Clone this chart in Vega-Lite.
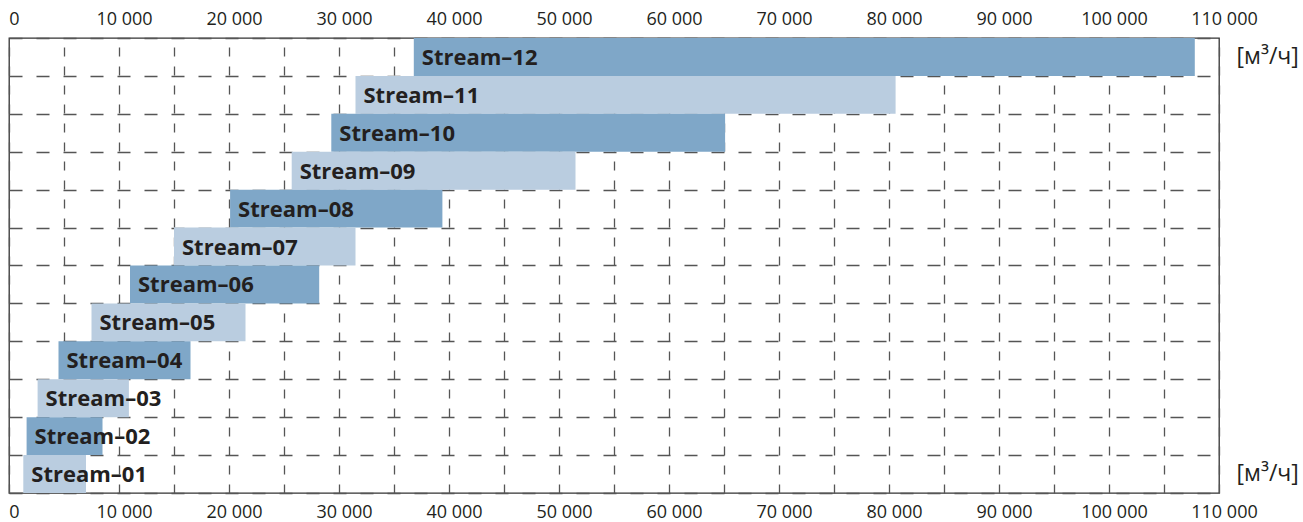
{
  "$schema": "https://vega.github.io/schema/vega-lite/v6.json",
  "width": 1210,
  "height": 455,
  "autosize": {"type": "none"},
  "padding": {"left": 9, "top": 38, "right": 84, "bottom": 29},
  "background": "white",
  "config": {
    "view": {"stroke": "#333333", "strokeWidth": 1.3},
    "font": "Open Sans"
  },
  "data": {
    "values": [
      {"name": "Stream–12", "parity": "even", "start": 36800, "end": 107800},
      {"name": "Stream–11", "parity": "odd", "start": 31500, "end": 80600},
      {"name": "Stream–10", "parity": "even", "start": 29300, "end": 65100},
      {"name": "Stream–09", "parity": "odd", "start": 25700, "end": 51500},
      {"name": "Stream–08", "parity": "even", "start": 20100, "end": 39400},
      {"name": "Stream–07", "parity": "odd", "start": 15000, "end": 31500},
      {"name": "Stream–06", "parity": "even", "start": 11000, "end": 28200},
      {"name": "Stream–05", "parity": "odd", "start": 7500, "end": 21500},
      {"name": "Stream–04", "parity": "even", "start": 4500, "end": 16500},
      {"name": "Stream–03", "parity": "odd", "start": 2600, "end": 10900},
      {"name": "Stream–02", "parity": "even", "start": 1600, "end": 8500},
      {"name": "Stream–01", "parity": "odd", "start": 1300, "end": 7000}
    ]
  },
  "resolve": {"axis": {"x": "independent", "y": "independent"}},
  "layer": [
    {
      "mark": {"type": "bar", "cornerRadius": 0},
      "encoding": {
        "x": {
          "field": "start",
          "type": "quantitative",
          "scale": {"domain": [0, 110000], "nice": false, "zero": true},
          "axis": {
            "orient": "bottom",
            "title": null,
            "values": [0, 5000, 10000, 15000, 20000, 25000, 30000, 35000, 40000, 45000, 50000, 55000, 60000, 65000, 70000, 75000, 80000, 85000, 90000, 95000, 100000, 105000, 110000],
            "labelExpr": "datum.value % 10000 == 0 ? replace(format(datum.value, ','), ',', ' ') : ''",
            "grid": true,
            "gridDash": [9, 10],
            "gridColor": "#555555",
            "gridWidth": 1.3,
            "ticks": false,
            "tickSize": 0,
            "domain": false,
            "labelFontSize": 18,
            "labelFont": "Open Sans",
            "labelColor": "#231f20",
            "labelPadding": 10,
            "labelOffset": 5,
            "labelFlush": false,
            "labelOverlap": false,
            "labelBound": false
          }
        },
        "x2": {"field": "end"},
        "y": {
          "field": "name",
          "type": "nominal",
          "sort": null,
          "scale": {"paddingInner": 0, "paddingOuter": 0},
          "axis": {
            "orient": "left",
            "title": null,
            "labels": false,
            "ticks": false,
            "domain": false,
            "grid": true,
            "tickBand": "extent",
            "gridDash": [13, 14],
            "gridColor": "#555555",
            "gridWidth": 1.3
          }
        },
        "color": {
          "field": "parity",
          "type": "nominal",
          "scale": {"domain": ["even", "odd"], "range": ["#7fa7c8", "#bacde0"]},
          "legend": null
        }
      }
    },
    {
      "mark": {"type": "text", "align": "left", "baseline": "middle", "dx": 8, "dy": 1, "font": "Open Sans", "fontWeight": "bold", "fontSize": 22, "color": "#231f20"},
      "encoding": {
        "x": {
          "field": "start",
          "type": "quantitative",
          "axis": {
            "orient": "top",
            "title": null,
            "values": [0, 10000, 20000, 30000, 40000, 50000, 60000, 70000, 80000, 90000, 100000, 110000],
            "labelExpr": "replace(format(datum.value, ','), ',', ' ')",
            "grid": false,
            "ticks": false,
            "tickSize": 0,
            "domain": false,
            "labelFontSize": 18,
            "labelFont": "Open Sans",
            "labelColor": "#231f20",
            "labelPadding": 10,
            "labelOffset": 5,
            "labelFlush": false,
            "labelOverlap": false,
            "labelBound": false
          }
        },
        "y": {
          "field": "name",
          "type": "nominal",
          "sort": null,
          "axis": {
            "orient": "right",
            "title": null,
            "grid": false,
            "ticks": false,
            "tickSize": 0,
            "domain": false,
            "labelExpr": "(datum.value == 'Stream–12' || datum.value == 'Stream–01') ? '[м³/ч]' : ''",
            "labelFont": "Open Sans",
            "labelFontSize": 23,
            "labelColor": "#231f20",
            "labelAlign": "left",
            "labelBaseline": "middle",
            "labelPadding": 17,
            "labelOverlap": false,
            "labelBound": false
          }
        },
        "text": {"field": "name"}
      }
    }
  ]
}
